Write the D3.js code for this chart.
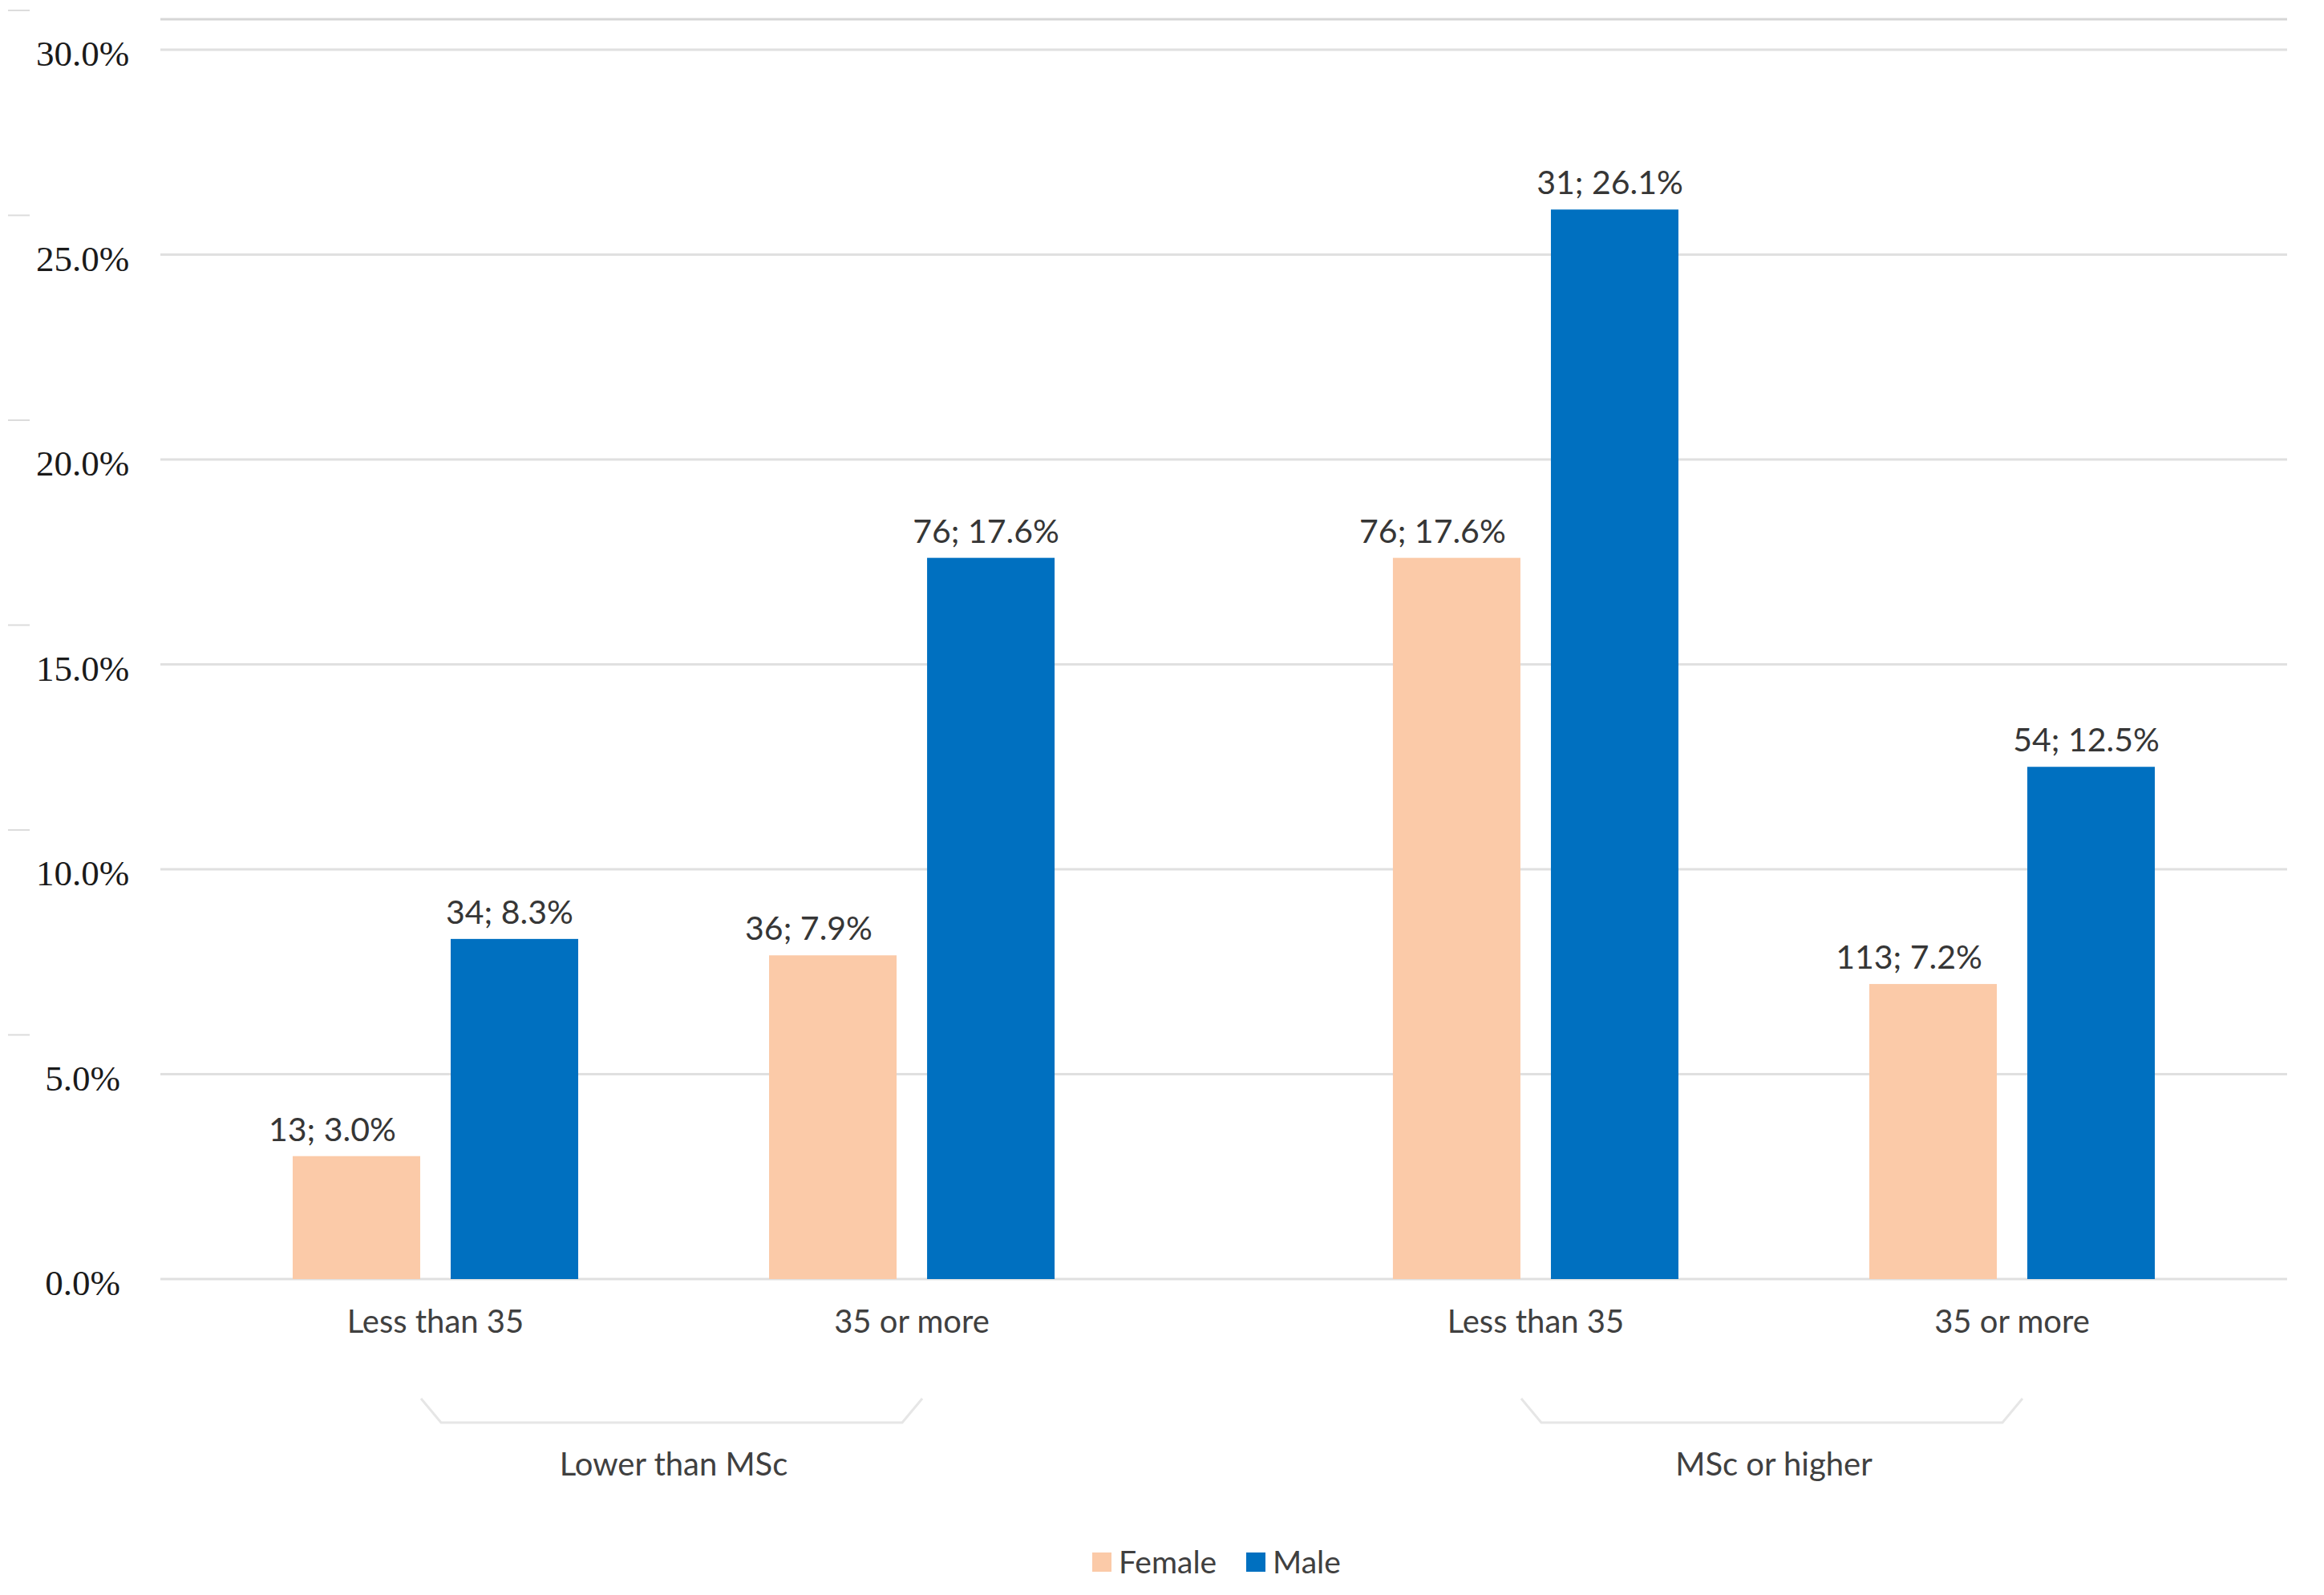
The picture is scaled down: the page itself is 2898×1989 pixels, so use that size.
<!DOCTYPE html>
<html>
<head>
<meta charset="utf-8">
<script src="https://cdn.jsdelivr.net/npm/d3@7"></script>
<style>
  body { margin: 0; background: #fff; }
  svg text { font-family: Lato, "Open Sans", sans-serif; fill: #404040; }
  svg text.ytick { font-family: "Liberation Serif", "DejaVu Serif", serif; fill: #1a1a1a; }
</style>
</head>
<body>
<svg id="chart" width="2898" height="1989"></svg>
<script>
// chart data
var groups = ['Lower than MSc', 'MSc or higher'];
var ages = ['Less than 35', '35 or more'];
var genders = ['Female', 'Male'];

// percentages, one entry per [group][age]
var femalePct = [3.0, 7.9, 17.6, 7.2];
var malePct = [8.3, 17.6, 26.1, 12.5];
// counts shown in the labels
var femaleN = [13, 36, 76, 113];
var maleN = [34, 76, 31, 54];

var yTicks = [0, 5, 10, 15, 20, 25, 30];

var colors = { Female: '#FBCAA8', Male: '#0070C0' };
var labelShift = { Female: -30, Male: -6 }; // labels sit a bit left of the bar centre in the original

var svg = d3.select('#chart');
svg.append('rect').attr('width', 2898).attr('height', 1989).attr('fill', '#fff');

var y = d3.scaleLinear().domain([0, 30]).range([1595, 62]);

var x0 = d3.scaleBand().domain(groups).range([200, 2852]).paddingInner(0.134).paddingOuter(0.0335);
var x1 = d3.scaleBand().domain(ages).range([0, x0.bandwidth()]);
var x2 = d3.scaleBand().domain(genders).range([0, x1.bandwidth()]).paddingInner(0.193).paddingOuter(0.604);

// build rows
var rows = [];
groups.forEach((g, gi) => {
  ages.forEach((a, ai) => {
    var i = gi * 2 + ai;
    rows.push({ group: g, age: a, gender: 'Female', pct: femalePct[i], n: femaleN[i] });
    rows.push({ group: g, age: a, gender: 'Male', pct: malePct[i], n: maleN[i] });
  });
});

function barX(d) { return x0(d.group) + x1(d.age) + x2(d.gender); }
function ageCenter(g, a) { return x0(g) + x1(a) + x1.bandwidth() / 2; }

// top border line
svg.append('line')
    .attr('x1', 200).attr('x2', 2852)
    .attr('y1', 24).attr('y2', 24)
    .attr('stroke', '#d6d6d6').attr('stroke-width', 3);

// gridlines
svg.append('g').selectAll('line')
    .data(yTicks)
  .enter().append('line')
    .attr('x1', 200).attr('x2', 2852)
    .attr('y1', (d) => y(d)).attr('y2', (d) => y(d))
    .attr('stroke', '#e0e0e0').attr('stroke-width', 3);

// little dashes at the left edge (scan artefacts of the original)
svg.append('g').selectAll('line')
    .data(yTicks.slice(1))
  .enter().append('line')
    .attr('x1', 10).attr('x2', 37)
    .attr('y1', (d) => y(d) - 49).attr('y2', (d) => y(d) - 49)
    .attr('stroke', '#dcdcdc').attr('stroke-width', 2);

// y tick labels
svg.append('g').selectAll('text')
    .data(yTicks)
  .enter().append('text')
    .attr('class', 'ytick')
    .attr('x', 103)
    .attr('y', (d) => y(d) + 20)
    .attr('text-anchor', 'middle')
    .style('font-size', '45px')
    .text((d) => d3.format('.1f')(d) + '%');

// bars
svg.append('g').selectAll('rect')
    .data(rows)
  .enter().append('rect')
    .attr('x', barX)
    .attr('width', x2.bandwidth())
    .attr('y', (d) => y(d.pct))
    .attr('height', (d) => y(0) - y(d.pct))
    .attr('fill', (d) => colors[d.gender]);

// value labels
svg.append('g').selectAll('text')
    .data(rows)
  .enter().append('text')
    .attr('x', (d) => barX(d) + x2.bandwidth() / 2 + labelShift[d.gender])
    .attr('y', (d) => y(d.pct) - 19)
    .attr('text-anchor', 'middle')
    .style('font-size', '41px')
    .style('fill', '#363636')
    .text((d) => `${d.n}; ${d3.format('.1f')(d.pct)}%`);

// age category labels
var ageCells = [];
groups.forEach((g) => { ages.forEach((a) => { ageCells.push({ group: g, age: a }); }); });

svg.append('g').selectAll('text')
    .data(ageCells)
  .enter().append('text')
    .attr('x', (d) => ageCenter(d.group, d.age))
    .attr('y', 1662)
    .attr('text-anchor', 'middle')
    .style('font-size', '40px')
    .text((d) => d.age);

// group brackets
var bracket = svg.append('g');
groups.forEach((g) => {
  var left = ageCenter(g, ages[0]) - 18;
  var right = ageCenter(g, ages[1]) + 13;
  bracket.append('path')
      .attr('d', `M${left},1744 L${left + 25},1774 L${right - 25},1774 L${right},1744`)
      .attr('fill', 'none')
      .attr('stroke', '#e6e6e6')
      .attr('stroke-width', 3);
});

// group labels
svg.append('g').selectAll('text')
    .data(groups)
  .enter().append('text')
    .attr('x', (d) => (ageCenter(d, ages[0]) + ageCenter(d, ages[1])) / 2)
    .attr('y', 1840)
    .attr('text-anchor', 'middle')
    .style('font-size', '40px')
    .text((d) => d);

// legend
var legendX = { Female: 1362, Male: 1554 };
var legend = svg.append('g').selectAll('g')
    .data(genders)
  .enter().append('g')
    .attr('transform', (d) => `translate(${legendX[d]},1948)`);

legend.append('rect')
    .attr('x', 0).attr('y', -12)
    .attr('width', 24).attr('height', 24)
    .attr('fill', (d) => colors[d]);

legend.append('text')
    .attr('x', 33).attr('y', 14)
    .style('font-size', '39px')
    .text((d) => d);
</script>
</body>
</html>
